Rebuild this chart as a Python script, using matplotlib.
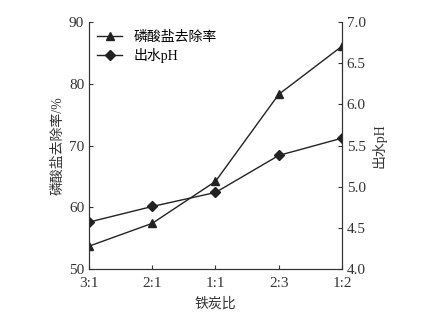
import matplotlib.pyplot as plt

plt.rcParams['font.family'] = ['Liberation Serif', 'Noto Sans CJK SC']

# data
ratios = ["3:1", "2:1", "1:1", "2:3", "1:2"]
removal = [53.7, 57.4, 64.2, 78.3, 86.1]
ph_out = [4.57, 4.76, 4.93, 5.38, 5.59]

fig = plt.figure(figsize=(4.28, 3.21), dpi=100)
ax = fig.add_axes([0.208, 0.162, 0.591, 0.769])
ax2 = ax.twinx()

x = range(len(ratios))
l1, = ax.plot(x, removal, color='#222222', lw=1.0, marker='^', ms=6, label='磷酸盐去除率')
l2, = ax2.plot(x, ph_out, color='#222222', lw=1.0, marker='D', ms=5, label='出水pH')

ax.set_xlim(0, 4)
ax.set_ylim(50, 90)
ax.set_yticks([50, 60, 70, 80, 90])
ax2.set_ylim(4.0, 7.0)
ax2.set_yticks([4.0, 4.5, 5.0, 5.5, 6.0, 6.5, 7.0])
ax2.set_yticklabels(["4.0", "4.5", "5.0", "5.5", "6.0", "6.5", "7.0"])
ax.set_xticks(list(x))
ax.set_xticklabels(ratios)

for a in (ax, ax2):
    a.spines['top'].set_visible(False)
    a.tick_params(direction='in', length=3, labelsize=11, color='#333333', labelcolor='#333333')
    for s in a.spines.values():
        s.set_color('#333333')
ax.tick_params(axis='x', pad=6)

ax.set_xlabel('铁炭比', fontsize=10, color='#333333', labelpad=5)
ax.set_ylabel('磷酸盐去除率/%', fontsize=10, color='#333333', labelpad=3)
ax2.set_ylabel('出水pH', fontsize=10, color='#333333', labelpad=4)

ax.legend(handles=[l1, l2], loc='upper left', frameon=False, fontsize=10,
          handlelength=1.8, borderaxespad=0.2, labelspacing=0.3)

fig.savefig('out.png', dpi=100)
